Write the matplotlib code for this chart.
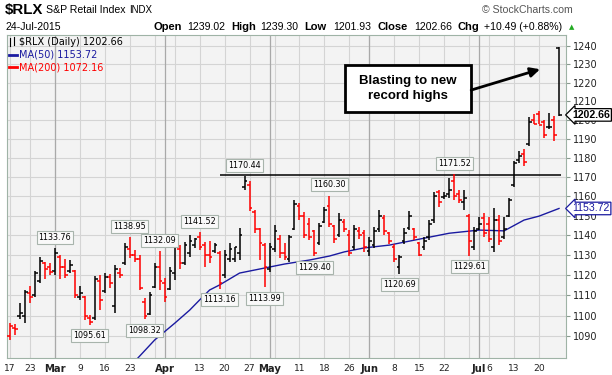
import matplotlib.pyplot as plt
from matplotlib.lines import Line2D
from matplotlib.patches import Rectangle
from matplotlib.ticker import NullLocator, NullFormatter

plt.rcParams['font.family'] = ['DejaVu Sans']

# daily OHLC for $RLX, 17-Feb-2015 .. 24-Jul-2015 (one entry per trading day)
prev_close = 1097.0
opens = [1090, 1094, 1100, 1100, 1111, 1110, 1117, 1126, 1124, 1122,
         1129, 1124, 1122, 1122, 1109, 1109, 1099, 1099, 1117, 1112,
         1119, 1105, 1121, 1126, 1133, 1130, 1128, 1107, 1101, 1114,
         1124, 1116, 1113, 1121, 1133, 1126, 1131, 1135, 1139, 1135,
         1130, 1132, 1131, 1120, 1128, 1128, 1131, 1165, 1166, 1152,
         1143, 1135, 1123, 1133, 1138, 1131, 1128, 1143, 1155, 1150,
         1146, 1142, 1136, 1147, 1155, 1145, 1140, 1147, 1140, 1134,
         1142, 1141, 1132, 1135, 1143, 1149, 1141, 1134, 1124, 1137,
         1144, 1143, 1136, 1134, 1139, 1148, 1162, 1159.5, 1161, 1168,
         1161, 1157, 1150, 1134, 1143, 1149, 1146, 1134, 1148, 1139,
         1150, 1166, 1179, 1182, 1187, 1200, 1203, 1199, 1196, 1200,
         1239.02]
highs = [1096.3, 1095.9, 1106.4, 1112.7, 1114.7, 1122.1, 1129.2, 1126.8, 1126.1, 1133.76,
         1130.1, 1128.1, 1127.6, 1122.6, 1114.7, 1109.7, 1100.5, 1119.6, 1120.1, 1121.3,
         1120.6, 1125.1, 1123.6, 1136.1, 1138.95, 1132.6, 1130.1, 1108.8, 1111.9, 1126.1,
         1132.09, 1118.6, 1124.1, 1136.1, 1135.1, 1136.8, 1140.1, 1138.6, 1141.52, 1136.8,
         1137.1, 1136.3, 1132.0, 1132.6, 1136.1, 1134.3, 1143.7, 1170.44, 1168.0, 1152.9,
         1143.7, 1136.1, 1136.1, 1145.2, 1140.1, 1136.1, 1140.1, 1158.0, 1156.5, 1151.8,
         1148.9, 1142.7, 1146.3, 1154.6, 1160.30, 1145.2, 1151.3, 1148.2, 1142.7, 1145.2,
         1144.4, 1142.7, 1139.3, 1144.4, 1152.9, 1150.3, 1141.6, 1135.6, 1130.1, 1143.6,
         1152.2, 1143.6, 1136.8, 1139.3, 1147.8, 1162.0, 1163.2, 1162.0, 1169.3, 1171.52,
         1163.2, 1163.2, 1151.0, 1144.4, 1149.5, 1151.2, 1149.5, 1153.8, 1150.3, 1149.5,
         1159.0, 1178.2, 1183.5, 1184.7, 1201.3, 1203.0, 1204.8, 1200.0, 1203.8, 1202.1,
         1239.30]
lows = [1088.3, 1090.7, 1098.7, 1096.6, 1106.3, 1109.4, 1116.0, 1118.0, 1120.1, 1120.1,
        1118.1, 1118.6, 1121.3, 1108.8, 1107.8, 1097.9, 1095.61, 1097.9, 1102.8, 1111.1,
        1113.7, 1101.4, 1118.6, 1125.1, 1128.4, 1126.7, 1112.7, 1098.32, 1100.4, 1113.7,
        1112.7, 1106.9, 1112.7, 1117.6, 1122.9, 1125.1, 1129.2, 1133.6, 1132.6, 1123.9,
        1126.0, 1131.0, 1113.16, 1118.6, 1126.7, 1126.7, 1127.6, 1163.2, 1152.2, 1141.2,
        1127.6, 1113.99, 1121.8, 1131.6, 1128.4, 1127.6, 1126.7, 1142.7, 1147.8, 1138.6,
        1137.6, 1129.40, 1135.1, 1146.1, 1144.4, 1136.0, 1139.3, 1141.6, 1129.4, 1132.6,
        1138.4, 1131.8, 1129.4, 1133.4, 1141.6, 1140.1, 1135.6, 1126.7, 1120.69, 1135.6,
        1142.7, 1137.6, 1129.4, 1132.6, 1137.6, 1146.1, 1154.6, 1158.5, 1159.1, 1158.0,
        1156.5, 1152.9, 1129.61, 1132.6, 1142.7, 1139.3, 1136.8, 1131.8, 1135.1, 1138.4,
        1149.5, 1165.0, 1177.5, 1175.7, 1186.4, 1197.8, 1197.8, 1190.3, 1195.0, 1188.8,
        1201.93]
closes = [1095.0, 1093.5, 1101.5, 1111.5, 1109.0, 1121.0, 1127.0, 1123.0, 1121.5, 1131.0,
          1124.0, 1120.0, 1125.0, 1110.0, 1111.0, 1100.0, 1097.0, 1118.0, 1108.0, 1119.0,
          1116.0, 1123.0, 1120.0, 1134.0, 1130.0, 1128.0, 1113.5, 1100.0, 1110.0, 1124.0,
          1117.0, 1109.0, 1122.0, 1134.0, 1126.0, 1135.0, 1137.0, 1138.0, 1134.0, 1130.0,
          1129.0, 1135.0, 1116.0, 1130.0, 1133.0, 1134.0, 1140.0, 1168.0, 1154.0, 1143.0,
          1136.0, 1124.0, 1134.0, 1142.0, 1131.0, 1129.0, 1139.0, 1156.0, 1150.0, 1140.0,
          1139.0, 1131.0, 1145.0, 1153.0, 1146.0, 1138.0, 1148.0, 1143.0, 1131.0, 1143.0,
          1140.0, 1134.0, 1137.0, 1142.0, 1150.0, 1142.0, 1137.0, 1128.0, 1129.0, 1141.0,
          1150.0, 1139.0, 1130.0, 1137.0, 1146.0, 1160.0, 1157.0, 1160.0, 1163.0, 1160.0,
          1158.0, 1159.0, 1137.0, 1142.0, 1146.0, 1141.0, 1138.0, 1148.0, 1137.0, 1143.0,
          1158.0, 1177.0, 1181.0, 1178.0, 1199.0, 1198.0, 1197.5, 1192.0, 1196.0, 1192.17,
          1202.66]

# MA(50) (trading-day index, value)
ma50_days = [25, 29, 33, 36, 38, 40, 42, 46, 50, 55, 60, 64, 67, 71, 76, 81, 88, 94, 99, 103, 106, 110]
ma50_vals = [1078.0, 1088.3, 1096.4, 1102.8, 1107.8, 1112.7, 1115.2, 1121.1, 1123.1, 1125.6, 1127.6,
             1129.6, 1131.7, 1133.7, 1135.1, 1137.6, 1141.1, 1142.7, 1142.3, 1147.8, 1149.8, 1153.72]
ma200_last = 1072.16

tick_days = [0, 4, 9, 14, 19, 24, 31, 38, 43, 48, 52, 58, 63, 68, 72, 77, 82, 87, 94, 96, 101, 106]
tick_labels = ['17', '23', 'Mar', '9', '16', '23', 'Apr', '13', '20', '27', 'May', '11', '18',
               '26', 'Jun', '8', '15', '22', 'Jul', '6', '13', '20']
week_days = [0, 4, 9, 14, 19, 24, 29, 33, 38, 43, 48, 53, 58, 63, 68, 72, 77, 82, 87, 92, 96, 101, 106]
month_days = [9, 31, 52, 72, 94]
price_ticks = list(range(1090, 1241, 10))

resistance = 1171.0
res_from, res_to = 42, 110.3

high_flags = [9, 24, 30, 38, 47, 64, 89]
low_flags = [16, 27, 42, 51, 61, 78, 92]

W, H = 612, 375


def px(x, y):
    return x / W, 1 - y / H


fig = plt.figure(figsize=(6.12, 3.75), dpi=100)
ax = fig.add_axes([7 / W, 17 / H, 559 / W, 323 / H])
ax.set_facecolor('#f3f3f3')
ax.set_yscale('log')
ax.set_ylim(1079.6, 1246.1)
ax.set_xlim(-0.6, 111.4)

# grid
for p in price_ticks:
    ax.axhline(p, color='#d4d4d4', lw=0.8, zorder=0)
for d in week_days:
    ax.axvline(d, color='#d4d4d4', lw=0.8, zorder=0)
for d in month_days:
    ax.axvline(d, color='#a9a9a9', lw=0.9, zorder=0)

# bars
days = list(range(len(closes)))
colors = ['black' if c > p else 'red' for p, c in zip([prev_close] + closes[:-1], closes)]
ax.vlines(days, lows, highs, colors=colors, lw=1.1, zorder=3)
ax.hlines(opens, [d - 0.55 for d in days], days, colors=colors, lw=1.1, zorder=3)
ax.hlines(closes, days, [d + 0.55 for d in days], colors=colors, lw=1.1, zorder=3)

ax.plot(ma50_days, ma50_vals, color='#1a1aa0', lw=1.0, zorder=2)
ax.hlines(resistance, res_from, res_to, color='black', lw=1.1, zorder=2)

flag_box = dict(boxstyle='square,pad=0.25', fc='#f9f9f9', ec='#a8b4ac', lw=0.8)
for i in high_flags:
    ax.annotate(f'{highs[i]:.2f}', (i, highs[i]), xytext=(0, 4.5), textcoords='offset points',
                ha='center', va='bottom', fontsize=5.8, bbox=flag_box, zorder=5)
for i in low_flags:
    ax.annotate(f'{lows[i]:.2f}', (i, lows[i]), xytext=(0, -4.5), textcoords='offset points',
                ha='center', va='top', fontsize=5.8, bbox=flag_box, zorder=5)

# callout
ax.add_patch(Rectangle((67.2, 1204.4), 25.1, 25.2, fc='white', ec='black', lw=2, zorder=6))
ax.text(79.75, 1216.9, 'Blasting to new\nrecord highs', ha='center', va='center', fontsize=9.5,
        fontweight='bold', family=['Liberation Sans', 'DejaVu Sans'], linespacing=1.3, zorder=7)
ax.annotate('', xy=(106.2, 1227.3), xytext=(92.4, 1216.0),
            arrowprops=dict(arrowstyle='-|>', color='black', lw=2, mutation_scale=14,
                            shrinkA=0, shrinkB=0), zorder=7)

# axes
ax.yaxis.tick_right()
ax.set_yticks(price_ticks, [str(p) for p in price_ticks])
ax.yaxis.set_minor_locator(NullLocator())
ax.yaxis.set_minor_formatter(NullFormatter())
ax.tick_params(axis='y', length=3, color='#8a9a90', labelsize=7, pad=2, labelcolor='#222222')
ax.set_xticks(tick_days, tick_labels)
ax.tick_params(axis='x', length=0, labelsize=6.6, pad=4, labelcolor='#222222')
for lbl in ax.get_xticklabels():
    if lbl.get_text() in ('Mar', 'Apr', 'May', 'Jun', 'Jul'):
        lbl.set_fontweight('bold')
        lbl.set_fontsize(7.2)
for s in ax.spines.values():
    s.set_color('#9fb3a6')

# last value tags on the right
narrow = ['Liberation Sans Narrow', 'Liberation Sans', 'DejaVu Sans']
ax.annotate(f'{closes[-1]:.2f}', xy=(1, closes[-1]), xycoords=('axes fraction', 'data'),
            xytext=(4.5, 0), textcoords='offset points', ha='left', va='center', fontsize=7.6,
            fontweight='bold', family=narrow,
            bbox=dict(boxstyle='larrow,pad=0.12', fc='white', ec='black', lw=0.9),
            annotation_clip=False, zorder=8)
ax.annotate(f'{ma50_vals[-1]:.2f}', xy=(1, ma50_vals[-1]), xycoords=('axes fraction', 'data'),
            xytext=(4.5, 0), textcoords='offset points', ha='left', va='center', fontsize=7.6,
            color='#1a1aa0', family=narrow,
            bbox=dict(boxstyle='larrow,pad=0.12', fc='white', ec='#1a1aa0', lw=0.9),
            annotation_clip=False, zorder=8)

# legend inside the plot
fig.add_artist(Line2D([10 / W, 10 / W], [1 - 38 / H, 1 - 46 / H], color='black', lw=0.8))
fig.add_artist(Line2D([14 / W, 14 / W], [1 - 37 / H, 1 - 45 / H], color='black', lw=0.8))
fig.text(*px(19, 42), f'$RLX (Daily) {closes[-1]:.2f}', fontsize=7, va='center')
fig.add_artist(Line2D([9 / W, 17 / W], [1 - 54.5 / H] * 2, color='#1a1aa0', lw=2))
fig.text(*px(19, 54.5), f'MA(50) {ma50_vals[-1]:.2f}', fontsize=7, va='center', color='#1a1aa0')
fig.add_artist(Line2D([9 / W, 17 / W], [1 - 67 / H] * 2, color='red', lw=2))
fig.text(*px(19, 67), f'MA(200) {ma200_last:.2f}', fontsize=7, va='center', color='red')

# header
hdr = ['Liberation Sans', 'DejaVu Sans']
fig.text(*px(5, 10), '$RLX', fontsize=10.8, fontweight='bold', va='center', family=narrow)
fig.text(*px(46, 10), 'S&P Retail Index', fontsize=7.6, va='center', family=hdr)
fig.text(*px(129, 10), 'INDX', fontsize=7, va='center', family=hdr)
fig.text(*px(573, 10), '© StockCharts.com', fontsize=7.6, va='center', ha='right',
         color='#555555', family=hdr)
fig.text(*px(6, 27), '24-Jul-2015', fontsize=7.6, va='center', family=hdr)
quote = [(153, 'Open', True), (187, f'{opens[-1]:.2f}', False), (231, 'High', True),
         (260, f'{highs[-1]:.2f}', False), (304, 'Low', True), (333, f'{lows[-1]:.2f}', False),
         (377, 'Close', True), (414, f'{closes[-1]:.2f}', False), (458, 'Chg', True),
         (484, f'+{closes[-1] - closes[-2]:.2f} (+{(closes[-1] / closes[-2] - 1) * 100:.2f}%)', False)]
for x, s, bold in quote:
    fig.text(*px(x, 27), s, fontsize=8 if bold else 7.6, fontweight='bold' if bold else 'normal',
             va='center', family=hdr)
fig.text(*px(569, 27), '▲', fontsize=5, color='#22aa22', va='center')

fig.savefig('out.png', dpi=100)
